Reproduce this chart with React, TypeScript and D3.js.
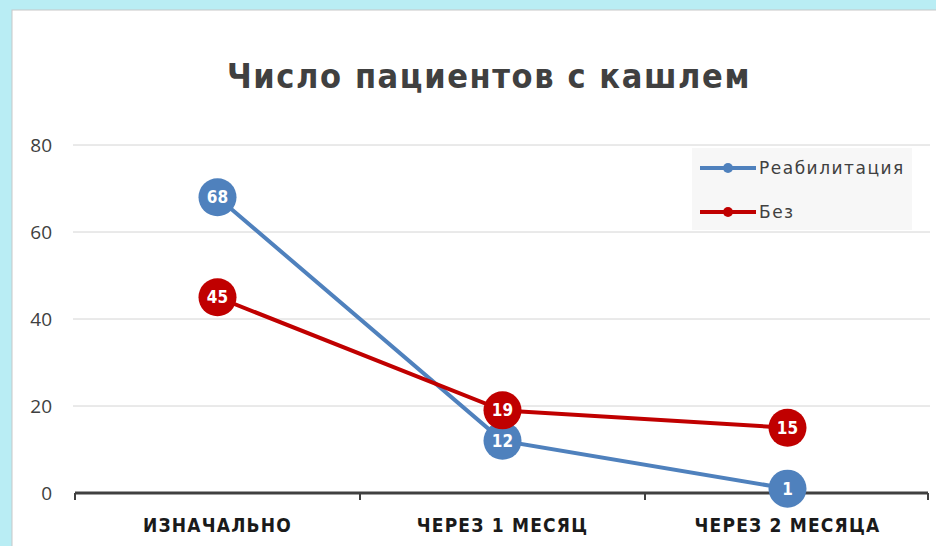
import * as d3 from "d3";
import { useEffect, useRef } from "react";

const categories = ["ИЗНАЧАЛЬНО", "ЧЕРЕЗ 1 МЕСЯЦ", "ЧЕРЕЗ 2 МЕСЯЦА"];
const rehab = [68, 12, 1];
const without = [45, 19, 15];
const yTicks = [0, 20, 40, 60, 80];
const seriesNames = ["Реабилитация", "Без"];
const seriesColors = ["#4f81bd", "#c00000"];

const W = 936;
const H = 546;

const App = () => {
  const ref = useRef<SVGSVGElement | null>(null);

  useEffect(() => {
    if (!ref.current) return;
    const svg = d3.select(ref.current);
    svg.selectAll("*").remove();

    // backdrop + white panel
    svg.append("rect").attr("width", W).attr("height", H).attr("fill", "#b9edf4");
    svg
      .append("rect")
      .attr("x", 12)
      .attr("y", 10)
      .attr("width", W)
      .attr("height", H)
      .attr("fill", "#ffffff")
      .attr("stroke", "#c8c8c8");

    svg
      .append("text")
      .attr("x", 489)
      .attr("y", 88)
      .attr("text-anchor", "middle")
      .attr("font-family", "'DejaVu Sans Condensed', 'DejaVu Sans'")
      .attr("font-weight", "bold")
      .attr("font-size", 34)
      .attr("letter-spacing", 1.6)
      .attr("fill", "#404040")
      .text("Число пациентов с кашлем");

    const x = d3.scaleBand<string>().domain(categories).range([75, 930]);
    const y = d3.scaleLinear().domain([0, 80]).range([493, 145]);
    const cx = (c: string) => x(c)! + x.bandwidth() / 2;

    // gridlines + y labels
    const g = svg.append("g");
    g.selectAll("line.grid")
      .data(yTicks.filter((t) => t > 0))
      .join("line")
      .attr("x1", 73)
      .attr("x2", 930)
      .attr("y1", (d) => y(d))
      .attr("y2", (d) => y(d))
      .attr("stroke", "#d4d4d4")
      .attr("stroke-width", 1);

    g.selectAll("text.ytick")
      .data(yTicks)
      .join("text")
      .attr("x", 52)
      .attr("y", (d) => y(d))
      .attr("dy", "0.35em")
      .attr("text-anchor", "end")
      .attr("font-family", "'Open Sans', 'DejaVu Sans'")
      .attr("font-size", 19)
      .attr("fill", "#404040")
      .text((d) => d);

    // x axis
    const [x0, x1] = x.range();
    g.append("line")
      .attr("x1", x0)
      .attr("x2", x1 - 2)
      .attr("y1", y(0))
      .attr("y2", y(0))
      .attr("stroke", "#404040")
      .attr("stroke-width", 3);
    const tickXs = categories.map((c) => x(c)!).concat([x1 - 2]);
    g.selectAll("line.xtick")
      .data(tickXs)
      .join("line")
      .attr("x1", (d) => d)
      .attr("x2", (d) => d)
      .attr("y1", y(0))
      .attr("y2", y(0) + 7)
      .attr("stroke", "#404040")
      .attr("stroke-width", 2);

    g.selectAll("text.xlab")
      .data(categories)
      .join("text")
      .attr("x", (d) => cx(d))
      .attr("y", 532)
      .attr("text-anchor", "middle")
      .attr("font-family", "'DejaVu Sans Condensed', 'DejaVu Sans'")
      .attr("font-weight", "bold")
      .attr("font-size", 19)
      .attr("letter-spacing", 1.2)
      .attr("fill", "#1a1a1a")
      .text((d) => d);

    // series
    const allSeries = [rehab, without];
    const line = d3
      .line<number>()
      .x((_, i) => cx(categories[i]))
      .y((d) => y(d));

    allSeries.forEach((vals, si) => {
      const color = seriesColors[si];
      const s = svg.append("g");
      s.append("path")
        .attr("d", line(vals))
        .attr("fill", "none")
        .attr("stroke", color)
        .attr("stroke-width", 4);
      s.selectAll("circle")
        .data(vals)
        .join("circle")
        .attr("cx", (_, i) => cx(categories[i]))
        .attr("cy", (d) => y(d))
        .attr("r", 19)
        .attr("fill", color);
      s.selectAll("text")
        .data(vals)
        .join("text")
        .attr("x", (_, i) => cx(categories[i]))
        .attr("y", (d) => y(d))
        .attr("dy", "0.36em")
        .attr("text-anchor", "middle")
        .attr("font-family", "'DejaVu Sans Condensed', 'DejaVu Sans'")
        .attr("font-weight", "bold")
        .attr("font-size", 17)
        .attr("fill", "#ffffff")
        .text((d) => d);
    });

    // legend
    const lg = svg.append("g").attr("transform", "translate(692,148)");
    lg.append("rect").attr("width", 220).attr("height", 82).attr("fill", "#f7f7f7");
    seriesNames.forEach((name, i) => {
      const ly = 20 + i * 44;
      lg.append("line")
        .attr("x1", 8)
        .attr("x2", 64)
        .attr("y1", ly)
        .attr("y2", ly)
        .attr("stroke", seriesColors[i])
        .attr("stroke-width", 4);
      lg.append("circle").attr("cx", 36).attr("cy", ly).attr("r", 5).attr("fill", seriesColors[i]);
      lg.append("text")
        .attr("x", 67)
        .attr("y", ly)
        .attr("dy", "0.35em")
        .attr("font-family", "'DejaVu Sans', sans-serif")
        .attr("font-size", 17)
        .attr("letter-spacing", 1.5)
        .attr("fill", "#404040")
        .text(name);
    });
  }, []);

  return (
    <div style={{ position: "fixed", left: 0, top: 0 }}>
      <svg ref={ref} width={W} height={H} style={{ display: "block" }} />
    </div>
  );
};

export default App;
